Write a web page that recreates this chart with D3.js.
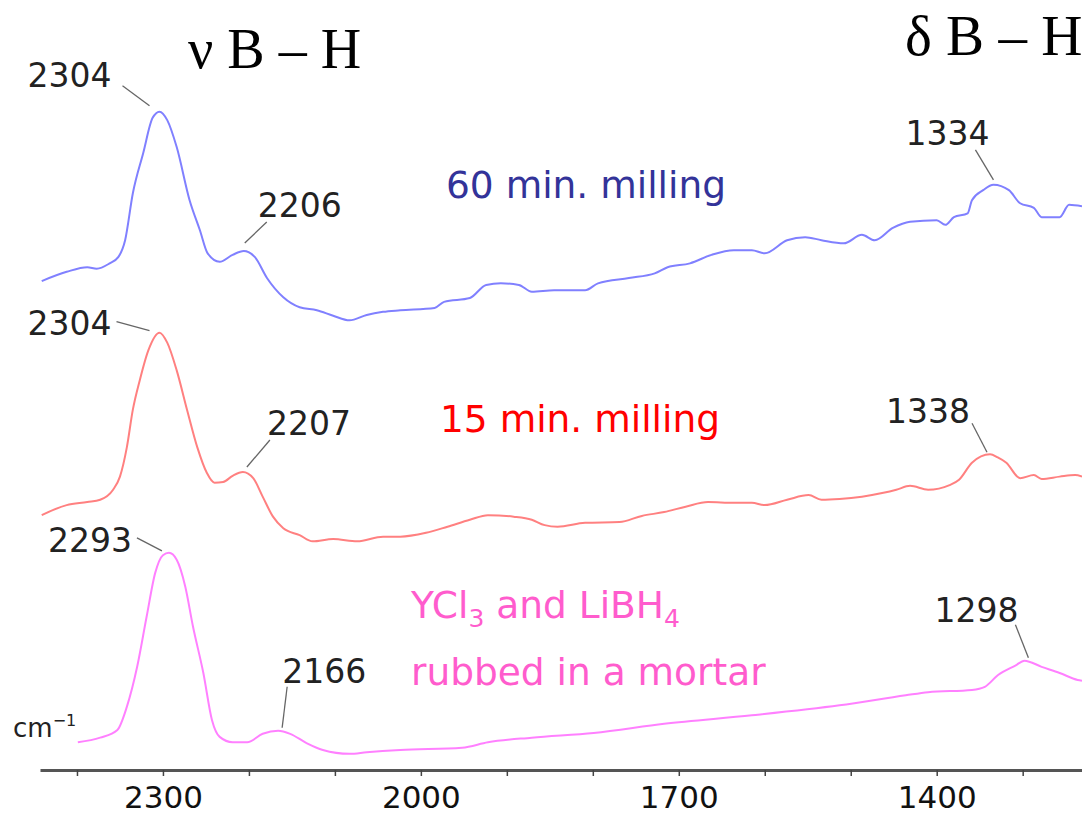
<!DOCTYPE html>
<html>
<head>
<meta charset="UTF-8">
<style>
body { margin: 0; background: #fff; }
.line { fill: none; stroke-width: 2px; }
.lbl { font-family: "DejaVu Sans", Verdana, sans-serif; font-size: 33px; fill: #222; }
.lead { stroke: #666; stroke-width: 1.3px; }
.axis .domain { stroke: #555; stroke-width: 3px; }
.axis line { stroke: #444; stroke-width: 1.5px; }
.axis text { font-family: "DejaVu Sans", Verdana, sans-serif; font-size: 31px; fill: #111; }
</style>
</head>
<body>
<svg width="1082" height="814"></svg>
<script src="https://cdn.jsdelivr.net/npm/d3@7"></script>
<script>
// wavenumber (cm-1), intensity (a.u., spectra offset as in the figure)
var milling60 = [
  [2441,63.5],[2412,64.7],[2388,65.3],[2377,65.1],[2362,65.8],[2352,66.6],[2344,68.8],[2335,74.9],
  [2323,80.1],[2312,84.7],[2304,85.5],[2295,84.4],[2284,80.9],[2269,74.0],[2257,70.1],[2248,67.1],
  [2234,66.0],[2219,66.9],[2206,67.4],[2193,66.6],[2179,63.9],[2160,61.4],[2141,60.1],[2121,59.7],
  [2102,59.0],[2083,58.4],[2063,59.1],[2044,59.5],[2024,59.7],[1984,60.0],[1973,60.8],[1943,61.3],
  [1924,63.0],[1907,63.2],[1886,63.0],[1871,62.1],[1845,62.3],[1809,62.3],[1794,63.2],[1758,63.9],
  [1728,64.5],[1713,65.3],[1687,65.8],[1662,66.9],[1636,67.5],[1615,67.5],[1600,67.1],[1574,68.8],
  [1553,69.2],[1534,68.8],[1508,68.4],[1487,69.5],[1472,68.8],[1451,70.4],[1431,71.2],[1400,71.4],
  [1390,70.8],[1380,71.8],[1364,72.3],[1359,74.0],[1346,75.3],[1334,76.0],[1316,75.3],[1303,73.6],
  [1287,73.0],[1278,71.8],[1257,71.8],[1246,73.4],[1231,73.2]
];
var milling15 = [
  [2441,33.1],[2412,34.4],[2388,34.8],[2373,35.1],[2358,36.4],[2350,38.1],[2342,41.9],[2335,46.8],
  [2327,50.6],[2317,54.5],[2304,56.8],[2295,55.5],[2284,51.9],[2272,46.8],[2260,41.9],[2249,38.6],
  [2240,37.3],[2230,37.4],[2219,38.2],[2207,38.7],[2195,37.9],[2184,35.5],[2172,32.9],[2160,31.4],
  [2141,30.5],[2126,29.7],[2102,30.0],[2074,29.7],[2044,30.3],[2024,30.3],[1994,30.8],[1969,31.6],
  [1943,32.5],[1922,33.1],[1892,32.9],[1871,32.5],[1856,31.8],[1841,31.6],[1809,32.1],[1769,32.2],
  [1743,33.0],[1717,33.5],[1692,34.2],[1666,34.8],[1636,34.7],[1615,34.7],[1600,34.4],[1574,35.1],
  [1549,35.7],[1534,35.1],[1513,35.2],[1487,35.5],[1462,36.0],[1447,36.4],[1431,36.9],[1410,36.4],
  [1385,37.0],[1374,37.7],[1359,39.9],[1338,41.0],[1329,40.6],[1319,39.9],[1303,37.9],[1287,38.3],
  [1278,37.8],[1257,38.1],[1239,38.3],[1231,38.1]
];
var mortar = [
  [2399,3.6],[2373,4.2],[2353,5.2],[2342,8.2],[2330,13.4],[2319,19.9],[2309,25.6],[2300,27.9],
  [2293,28.2],[2284,27.3],[2274,23.8],[2265,18.6],[2253,12.6],[2243,6.5],[2234,4.3],[2219,3.6],
  [2202,3.6],[2184,4.7],[2166,5.1],[2152,4.7],[2133,3.5],[2114,2.6],[2083,2.1],[2063,2.3],
  [2024,2.6],[1952,2.9],[1922,3.6],[1871,4.2],[1799,4.8],[1717,6.0],[1615,7.1],[1513,8.4],
  [1436,9.7],[1410,10.1],[1359,10.4],[1344,10.8],[1329,12.3],[1308,13.6],[1298,14.2],[1278,13.4],
  [1257,12.6],[1236,11.7],[1231,11.6]
];

var seriesNames = ["60 min. milling", "15 min. milling", "YCl3 and LiBH4 rubbed in a mortar"];
var peaks60 = [2304, 2206, 1334];
var peaks15 = [2304, 2207, 1338];
var peaksMortar = [2293, 2166, 1298];
var tickValues = [2400, 2300, 2200, 2100, 2000, 1900, 1800, 1700, 1600, 1500, 1400, 1300];
var tickLabels = [2300, 2000, 1700, 1400];

var svg = d3.select("svg");

var x = d3.scaleLinear().domain([2443, 1231]).range([40, 1082]);
var y = d3.scaleLinear().domain([0, 100]).range([770, 0]);

var line = d3.line()
    .curve(d3.curveMonotoneX)
    .x(function(d) { return x(d[0]); })
    .y(function(d) { return y(d[1]); });

var series = [
  {data: milling60, peaks: peaks60, color: "#8080ff",
   lab: [[-132,-25,-37,-26,-10,-6],[14,-34,23,-29,1,-8],[-88,-40,-18,-35,0,-5]]},
  {data: milling15, peaks: peaks15, color: "#ff8080",
   lab: [[-132,2,-43,-11,-10,-2],[24,-37,27,-32,4,-5],[-104,-31,-18,-31,-3,-2]]},
  {data: mortar, peaks: peaksMortar, color: "#ff80ff",
   lab: [[-121,-1,-32,-15,-7,-2],[4,-48,9,-44,4,-3],[-90,-39,-9,-36,4,-3]]}
];

// axis
svg.append("g")
    .attr("class", "axis")
    .attr("transform", "translate(0,770)")
    .call(d3.axisBottom(x)
      .tickValues(tickValues)
      .tickSize(6)
      .tickSizeOuter(0)
      .tickPadding(10)
      .tickFormat(function(d) { return tickLabels.indexOf(d) >= 0 ? d : ""; }));

series.forEach(function(s) {
  svg.append("path")
      .datum(s.data)
      .attr("class", "line")
      .attr("stroke", s.color)
      .attr("d", line);

  s.peaks.forEach(function(p, i) {
    var pt = s.data.find(function(d) { return d[0] === p; });
    var px = x(p), py = y(pt[1]), o = s.lab[i];
    svg.append("line").attr("class", "lead")
        .attr("x1", px + o[2]).attr("y1", py + o[3])
        .attr("x2", px + o[4]).attr("y2", py + o[5]);
    svg.append("text").attr("class", "lbl")
        .attr("x", px + o[0]).attr("y", py + o[1])
        .text(p);
  });
});

// band titles
svg.append("text")
    .attr("x", 188).attr("y", 68)
    .style("font", "56px 'Liberation Serif', serif").attr("fill", "#000")
    .text("\u03BD B \u2013 H");
svg.append("text")
    .attr("x", 905).attr("y", 55)
    .style("font", "57px 'Liberation Serif', serif").attr("fill", "#000")
    .text("\u03B4 B \u2013 H");

// series names
var sans = "'DejaVu Sans', Verdana, sans-serif";
svg.append("text").attr("x", 446).attr("y", 198)
    .style("font", "37.5px " + sans).attr("fill", "#333399")
    .text(seriesNames[0]);
svg.append("text").attr("x", 440).attr("y", 432)
    .style("font", "37.5px " + sans).attr("fill", "#ff0000")
    .text(seriesNames[1]);

var t = svg.append("text").attr("x", 411).attr("y", 618)
    .style("font", "37.5px " + sans).attr("fill", "#ff5ccd");
t.append("tspan").text("YCl");
t.append("tspan").attr("dy", 9).style("font-size", "25px").text("3");
t.append("tspan").attr("dy", -9).text(" and LiBH");
t.append("tspan").attr("dy", 9).style("font-size", "25px").text("4");
svg.append("text").attr("x", 411).attr("y", 685)
    .style("font", "37.5px " + sans).attr("fill", "#ff5ccd")
    .text("rubbed in a mortar");

var u = svg.append("text").attr("x", 13).attr("y", 737)
    .style("font", "26px " + sans).attr("fill", "#222");
u.append("tspan").text("cm");
u.append("tspan").attr("dy", -11).style("font-size", "16px").text("\u22121");
</script>
</body>
</html>
